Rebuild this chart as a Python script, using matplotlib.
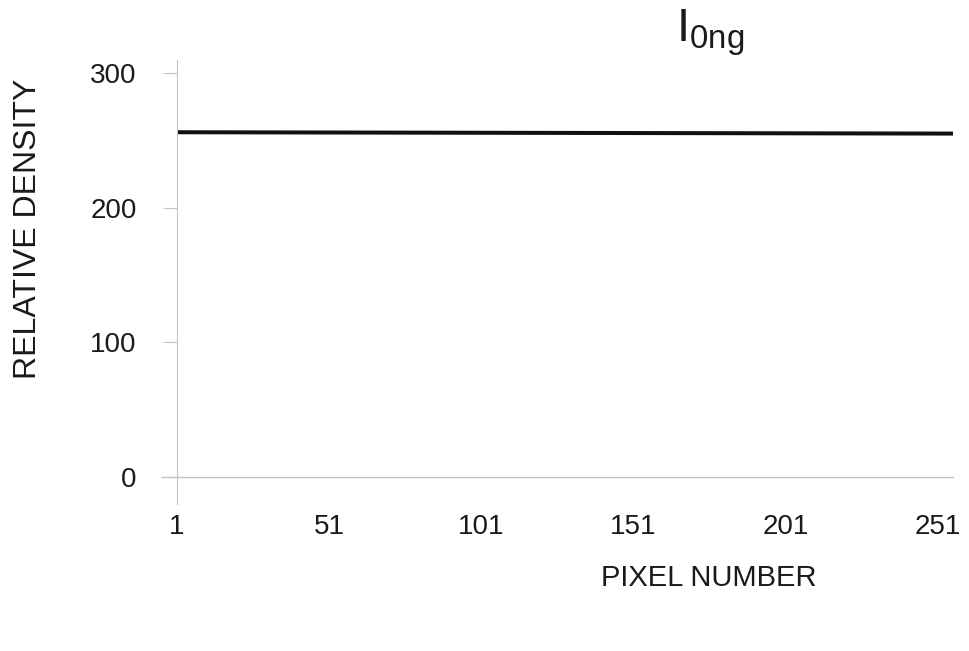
import matplotlib
matplotlib.use("Agg")
import matplotlib.pyplot as plt

# Data
pixel_number = [1, 256]
relative_density = [256, 255]
x_ticks = [1, 51, 101, 151, 201, 251]
y_ticks = [0, 100, 200, 300]

plt.rcParams['font.family'] = ['Liberation Sans', 'DejaVu Sans']
plt.rcParams['mathtext.fontset'] = 'custom'
plt.rcParams['mathtext.rm'] = 'Liberation Sans'

W, H = 970, 651
fig = plt.figure(figsize=(W / 100, H / 100), dpi=100)

left_px, right_px = 161, 954.5
top_px, bot_px = 59.5, 504
ax = fig.add_axes([left_px / W, 1 - bot_px / H, (right_px - left_px) / W, (bot_px - top_px) / H])

ax.plot(pixel_number, relative_density, color='#111111', lw=2.9, solid_capstyle='butt')

ax.set_xlim(-4.26, 256.5)
ax.set_ylim(-20, 310)

grey = '#c4c4c4'
for s in ['top', 'right', 'bottom']:
    ax.spines[s].set_visible(False)
ax.spines['left'].set_position(('data', 1))
ax.spines['left'].set_color(grey)
ax.spines['left'].set_linewidth(0.8)
ax.axhline(0, color=grey, lw=1.0, zorder=1)

ax.set_yticks(y_ticks)
ax.set_yticklabels([str(v) for v in y_ticks])
ax.tick_params(axis='y', direction='out', length=10, width=0.8, color=grey,
               labelcolor='#1a1a1a', labelsize=20, pad=19)

ax.set_xticks(x_ticks)
ax.set_xticklabels([str(v) for v in x_ticks])
ax.tick_params(axis='x', length=0, labelcolor='#1a1a1a', labelsize=20, pad=7)

fig.text(28 / W, 1 - 229 / H, 'RELATIVE DENSITY', rotation=90, ha='center', va='center',
         fontsize=23, color='#1a1a1a')
fig.text(709 / W, 1 - 578 / H, 'PIXEL NUMBER', ha='center', va='center',
         fontsize=21, color='#1a1a1a')
fig.text(676 / W, 1 - 8 / H, r'$\mathregular{I_{0ng}}$', ha='left', va='top',
         fontsize=34, color='#1a1a1a')

fig.savefig('out.png', dpi=100, facecolor='white')
